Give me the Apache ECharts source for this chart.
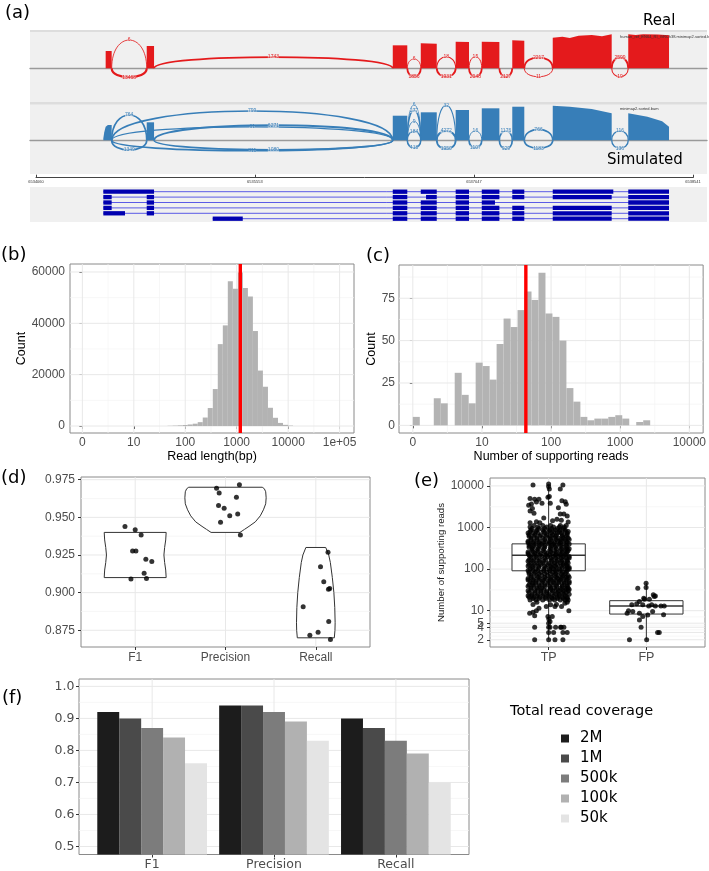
<!DOCTYPE html>
<html><head><meta charset="utf-8">
<script src="https://cdn.jsdelivr.net/npm/echarts@6/dist/echarts.min.js"></script>
<style>html,body{margin:0;padding:0;background:#fff}#c{width:709px;height:871px}</style>
</head><body><div id="c"></div><script>
// ================= DATA =================
// (a) sashimi plot: genomic axis
const genomeTicks = [6534060, 6535553, 6537047, 6538541];
// coverage top profiles: [genomic position, coverage]
const realCoverage = [
  [[6534535,1535],[6534576,1535]],
  [[6534815,1980],[6534865,1980]],
  [[6536493,2040],[6536592,2040]],
  [[6536684,2220],[6536793,2180]],
  [[6536922,2360],[6537013,2330]],
  [[6537100,2360],[6537220,2330]],
  [[6537308,2480],[6537390,2450]],
  [[6537584,2720],[6537650,2800],[6537700,2700],[6537760,2880],[6537850,2950],[6537920,2850],[6537986,3016]],
  [[6538099,3016],[6538150,2950],[6538200,3016],[6538300,2990],[6538377,2930]]
];
const simCoverage = [
  [[6534519,150],[6534525,700],[6534535,1200],[6534550,1357],[6534576,1357]],
  [[6534815,1597],[6534865,1597]],
  [[6536493,2182],[6536592,2182]],
  [[6536684,2484],[6536793,2484]],
  [[6536922,2688],[6537013,2688]],
  [[6537100,2838],[6537220,2838]],
  [[6537308,2980],[6537390,2980]],
  [[6537584,3069],[6537700,2980],[6537850,2780],[6537986,2395]],
  [[6538099,2395],[6538230,2100],[6538330,1700],[6538377,1206]]
];
// junctions: [start, end, arc height, supporting reads]
const realJunctions = [
  [6534576,6534815, 2510, 6],
  [6534576,6534815, -800, 13468],
  [6534865,6536493, 1000, 1743],
  [6536592,6536684, 825, 6],
  [6536592,6536684, -745, 1856],
  [6536793,6536922, 1030, 18],
  [6536793,6536922, -745, 1931],
  [6537013,6537100, 1030, 15],
  [6537013,6537100, -745, 2048],
  [6537220,6537308, -745, 2127],
  [6537390,6537584, 975, 2217],
  [6537390,6537584, -745, 11],
  [6537986,6538099, 975, 2599],
  [6537986,6538099, -745, 19]
];
const simJunctions = [
  [6534576,6534815, 2245, 764],
  [6534576,6534815, -860, 1349],
  [6534576,6536493, 2600, 799],
  [6534576,6536493, 1200, 61],
  [6534865,6536493, 1330, 6271],
  [6534576,6536493, -920, 811],
  [6534865,6536493, -840, 1080],
  [6536592,6536684, 3150, 6],
  [6536592,6536684, 2660, 277],
  [6536592,6536684, 1685, 9],
  [6536592,6536684, 800, 184],
  [6536592,6536684, -665, 418],
  [6536793,6536922, 3100, 32],
  [6536793,6536922, 825, 4272],
  [6536793,6536922, -770, 1950],
  [6537013,6537100, 825, 16],
  [6537013,6537100, -655, 1107],
  [6537220,6537308, 825, 1176],
  [6537220,6537308, -770, 929],
  [6537390,6537584, 975, 766],
  [6537390,6537584, -710, 1183],
  [6537986,6538099, 825, 116],
  [6537986,6538099, -710, 136]
];
// transcript models: exon [start, end]
const transcripts = [
  [[6534519,6534865],[6536493,6536592],[6536684,6536793],[6536922,6537013],[6537100,6537220],[6537308,6537390],[6537584,6537997],[6538099,6538377]],
  [[6534519,6534576],[6534815,6534865],[6536493,6536592],[6536720,6536793],[6536922,6537013],[6537100,6537220],[6537308,6537390],[6537584,6537986],[6538099,6538377]],
  [[6534519,6534576],[6534815,6534865],[6536493,6536592],[6536684,6536793],[6536922,6537013],[6537100,6537190],[6538099,6538377]],
  [[6534519,6534576],[6534815,6534865],[6536493,6536592],[6536684,6536793],[6536922,6537013],[6537100,6537220],[6537308,6537390],[6537584,6537986],[6538099,6538377]],
  [[6534519,6534667],[6534815,6534865],[6536493,6536592],[6536684,6536793],[6536922,6537013],[6537100,6537220],[6537308,6537390],[6537584,6537986],[6538099,6538377]],
  [[6535265,6535470],[6536493,6536592],[6536684,6536793],[6536922,6537013],[6537100,6537220],[6537308,6537390],[6537584,6537986],[6538099,6538377]]
];

// (b) read length histogram (log10 bin centres, counts)
const readLenBinWidth = 0.0975;
const readLenBins = [1.706,1.804,1.901,1.999,2.096,2.194,2.291,2.389,2.486,2.584,2.681,2.779,2.876,2.974,3.071,3.169,3.266,3.364,3.461,3.559,3.656,3.754,3.851,3.949,4.046];
const readLenCounts = [80,150,250,400,600,900,1500,3300,7000,14400,31900,39200,56400,53500,59800,53800,50500,37000,21600,15300,7100,3200,1200,450,150];
const readLenMedianPos = 3.07;
const readLenTickPos = [0,1,2,3,4,5];
const readLenTickLabels = ['0','10','100','1000','10000','1e+05'];
const countTicksB = [0,20000,40000,60000];

// (c) supporting reads histogram
const supportBinWidth = 0.101;
const supportBins = [0.0505,0.3535,0.4545,0.6565,0.7575,0.8585,0.9595,1.0605,1.1615,1.2625,1.3635,1.4645,1.5655,1.6665,1.7675,1.8685,1.9695,2.0705,2.1715,2.2725,2.3735,2.4745,2.5755,2.6765,2.7775,2.8785,2.9795,3.0805,3.2825,3.3835];
const supportCounts = [5,16,13,31,18,13,37,35,27,48,63,58,68,79,74,90,66,64,50,22,14,5,3,4,4,5,6,4,2,3];
const supportMedianPos = 1.635;
const supportTickPos = [0,1,2,3,4];
const supportTickLabels = ['0','10','100','1000','10000'];
const countTicksC = [0,25,50,75];

// (d) violin + jitter
const metricsD = ['F1','Precision','Recall'];
const violinF1 = [[0.910,0.343],[0.915,0.338],[0.920,0.326],[0.925,0.318],[0.930,0.326],[0.935,0.338],[0.940,0.343]];
const violinPrecision = [[0.940,0.16],[0.942,0.21],[0.944,0.26],[0.947,0.33],[0.951,0.385],[0.955,0.42],[0.959,0.445],[0.963,0.45],[0.967,0.445],[0.969,0.43],[0.970,0.407]];
const violinRecall = [[0.870,0.205],[0.875,0.212],[0.880,0.214],[0.890,0.21],[0.900,0.20],[0.910,0.183],[0.920,0.161],[0.925,0.143],[0.930,0.11]];
const f1Values = [0.9439,0.9417,0.9383,0.9277,0.9277,0.9221,0.9206,0.9128,0.9090,0.9094];
const f1Jitter = [-0.113,0,0.066,-0.029,0.008,0.118,0.184,0.099,-0.047,0.125];
const precisionValues = [0.9694,0.9661,0.9717,0.9634,0.9579,0.9561,0.9510,0.9523,0.9468,0.9383];
const precisionJitter = [-0.099,-0.070,0.154,0.121,-0.077,-0.015,0.047,0.135,-0.055,0.165];
const recallValues = [0.9268,0.9172,0.9072,0.9028,0.9023,0.8906,0.8808,0.8737,0.8717,0.8688];
const recallJitter = [0.135,0.052,0.088,0.154,0.140,-0.140,0.143,0.025,-0.066,0.162];
const ticksD = [0.875,0.900,0.925,0.950,0.975];

// (e) boxplot + jitter (log10 y)
const classesE = ['TP','FP'];
const boxTP = [2, 91, 216, 404, 10500];   // [lower whisker, Q1, median, Q3, upper whisker]
const boxFP = [2, 8.3, 13, 17.4, 46];
const ticksE = [2,3,4,5,10,100,1000,10000];
const minorE = [2.45,3.46,4.47,7.07,31.6,316,3162];
const tpRowValues = [18,21,25,30,35,42,50,59,70,84,100,118,140,168,200,236,280,335,400,470,560,670,800,940,1120,
  19.5,23,27.5,32.5,38.5,46,54.5,64,77,92,109,129,154,184,218,258,307,367,435,515,615,735,870,1030];
const tpRowJitter = [
  [-0.19,-0.13,-0.06,0.01,0.06,0.12,0.17,0.20],
  [-0.20,-0.15,-0.09,-0.03,0.03,0.09,0.14,0.19],
  [-0.17,-0.11,-0.05,0.00,0.07,0.11,0.16,0.21],
  [-0.21,-0.14,-0.08,-0.02,0.04,0.10,0.15,0.20],
  [-0.18,-0.12,-0.07,0.02,0.06,0.12,0.17,0.20],
  [-0.20,-0.16,-0.10,-0.04,0.03,0.08,0.14,0.19],
  [-0.19,-0.13,-0.06,0.00,0.05,0.11,0.16,0.21],
  [-0.21,-0.15,-0.09,-0.03,0.02,0.09,0.13,0.19],
  [-0.18,-0.12,-0.07,-0.01,0.06,0.10,0.15,0.20],
  [-0.20,-0.14,-0.08,-0.02,0.04,0.08,0.14,0.18],
  [-0.19,-0.13,-0.05,0.01,0.05,0.11,0.17,0.21],
  [-0.21,-0.16,-0.10,-0.04,0.02,0.07,0.13,0.19],
  [-0.18,-0.12,-0.06,0.00,0.06,0.12,0.16,0.20],
  [-0.20,-0.15,-0.09,-0.03,0.03,0.09,0.14,0.19],
  [-0.19,-0.13,-0.07,-0.01,0.05,0.10,0.15,0.21],
  [-0.21,-0.14,-0.08,-0.02,0.04,0.08,0.13,0.18],
  [-0.17,-0.12,-0.06,0.01,0.06,0.12,0.17,0.20],
  [-0.20,-0.16,-0.10,-0.04,0.02,0.07,0.14,0.19],
  [-0.19,-0.13,-0.07,0.00,0.05,0.11,0.16,0.21],
  [-0.21,-0.15,-0.09,-0.03,0.03,0.09,0.13,0.18],
  [-0.18,-0.12,-0.06,0.01,0.06,0.10,0.15,0.20],
  [-0.20,-0.14,-0.08,-0.02,0.04,0.08,0.14,0.19],
  [-0.19,-0.13,-0.05,0.00,0.05,0.11,0.17,0.20],
  [-0.17,-0.10,-0.04,0.03,0.09,0.15],
  [-0.15,-0.06,0.02,0.12,0.18],
  [-0.16,-0.10,-0.03,0.04,0.09,0.15,0.19],
  [-0.21,-0.17,-0.12,-0.06,0.00,0.05,0.11,0.17],
  [-0.20,-0.14,-0.08,-0.02,0.04,0.09,0.14,0.18],
  [-0.18,-0.11,-0.05,0.02,0.08,0.13,0.18,0.21],
  [-0.21,-0.15,-0.09,-0.04,0.01,0.08,0.14,0.19],
  [-0.17,-0.13,-0.07,-0.01,0.05,0.10,0.16,0.21],
  [-0.21,-0.16,-0.10,-0.05,0.02,0.07,0.12,0.18],
  [-0.18,-0.11,-0.04,0.03,0.08,0.14,0.18,0.21],
  [-0.20,-0.15,-0.10,-0.04,0.02,0.07,0.13,0.17],
  [-0.21,-0.16,-0.11,-0.05,0.01,0.07,0.12,0.19],
  [-0.17,-0.10,-0.03,0.03,0.08,0.14,0.19,0.21],
  [-0.20,-0.14,-0.08,-0.01,0.04,0.09,0.15,0.18],
  [-0.21,-0.16,-0.10,-0.05,0.03,0.08,0.13,0.19],
  [-0.18,-0.12,-0.04,0.02,0.07,0.13,0.18,0.21],
  [-0.20,-0.15,-0.09,-0.03,0.01,0.07,0.12,0.17],
  [-0.21,-0.16,-0.11,-0.04,0.02,0.08,0.14,0.19],
  [-0.17,-0.11,-0.05,0.02,0.08,0.13,0.18,0.21],
  [-0.20,-0.15,-0.09,-0.04,0.03,0.07,0.12,0.18],
  [-0.21,-0.16,-0.10,-0.05,0.01,0.06,0.12,0.19],
  [-0.18,-0.12,-0.04,0.02,0.08,0.13,0.17,0.21],
  [-0.20,-0.15,-0.09,-0.03,0.02,0.07,0.14,0.18],
  [-0.21,-0.16,-0.11,-0.04,0.03,0.09,0.13,0.19],
  [-0.18,-0.12,-0.06,0.01,0.07,0.12,0.17],
  [-0.19,-0.11,-0.02,0.05,0.11,0.16]
];
const tpSparseValues = [10570,11170,9630,8470,10570,8470,3440,3690,4790,4120,4790,3840,5350,5540,3840,4370,4170,3630,2880,2210,2120,2120,1580,1380,1700,1450,1900,2500,1300,1350,3000,5000,
  9.2,8.7,7.6,9.9,11.5,12.6,13.8,12.6,12.6,15.1,9.9,7.2,6.2,5.5,7.2,4,5,4,4,4,4,4,3,3,3,3,2,2,2,2,4,14,14,16,16,1300,1500];
const tpSparseJitter = [-0.16,0,0,0.007,0.146,0.119,-0.204,-0.176,-0.143,-0.125,-0.099,-0.068,-0.007,0.007,0.017,0.136,0.17,0.18,-0.166,-0.15,0.119,0.156,0.085,-0.125,-0.05,0.04,0.19,-0.19,-0.19,0.2,0.1,-0.19,
  -0.16,-0.194,-0.143,-0.126,-0.099,-0.024,0.02,0.065,0.132,0.166,0.207,-0.007,0.003,0.014,0.037,-0.143,0,0,0.014,0.071,0.122,0.156,0,0.051,0.146,0.19,-0.143,0,0.065,0.146,0.129,-0.16,0.08,-0.12,0.19,-0.09,0.13];
const fpValues = [2,2,3,3,4,6,7.2,8.7,10,9.5,8.7,7.9,9.5,8,13,13,13.8,13,13,16.6,20,14.6,13.8,21.8,24,22.7,36,34.7,45.8,18.9,18.9,13.8];
const fpJitter = [-0.173,0.003,0.115,0.132,-0.054,-0.071,-0.037,-0.197,-0.183,-0.139,-0.071,0.014,0.064,0.176,0.149,0.183,-0.037,0.024,0.092,-0.071,-0.027,-0.099,-0.149,0.081,0.071,0.092,-0.003,-0.088,-0.003,-0.02,0.031,0.054];

// (f) grouped bars
const metricsF = ['F1','Precision','Recall'];
const coverageLevels = ['2M','1M','500k','100k','50k'];
const cov2M = [0.92,0.94,0.90];
const cov1M = [0.90,0.94,0.87];
const cov500k = [0.87,0.92,0.83];
const cov100k = [0.84,0.89,0.79];
const cov50k = [0.76,0.83,0.70];
const ticksF = [0.5,0.6,0.7,0.8,0.9,1.0];

// ================= STYLE / HELPERS =================
const FONT = '"Liberation Sans", Arial, sans-serif';
const DFONT = '"DejaVu Sans", sans-serif';
const TICK = '#4d4d4d';
const RED = '#e41a1c', BLUE = '#377eb8';
const levelColors = ['#1c1c1c','#4a4a4a','#7c7c7c','#b1b1b1','#e4e4e4'];

function nearestLabel(pos, labels, v) {
  let best = 0;
  for (let i = 1; i < pos.length; i++) if (Math.abs(pos[i] - v) < Math.abs(pos[best] - v)) best = i;
  return labels[best];
}
function blankAxis(gridIndex, min, max, extra) {
  return Object.assign({type:'value', gridIndex, min, max, splitLine:{show:false},
    axisLine:{show:false}, axisTick:{show:false}, axisLabel:{show:false}}, extra || {});
}
function tickAxis(gridIndex, min, max, pos, fmt, o) {
  o = o || {};
  return Object.assign({type:'value', gridIndex, min, max, splitLine:{show:false},
    axisLine:{show:false},
    axisTick:{show:true, customValues:pos, length:3, lineStyle:{color:'#333', width:1}},
    axisLabel:{show:true, customValues:pos, formatter:fmt, color:TICK, fontSize:o.fs || 12, fontFamily:o.ff || FONT,
      margin:o.margin || 4, hideOverlap:false, showMinLabel:true, showMaxLabel:true}
  }, o.extra || {});
}
function gridLines(idx, xMajor, xMinor, yMajor, yMinor) {
  const data = [];
  xMinor.forEach(v => data.push([v, 0, 1]));
  yMinor.forEach(v => data.push([v, 1, 1]));
  xMajor.forEach(v => data.push([v, 0, 0]));
  yMajor.forEach(v => data.push([v, 1, 0]));
  return {type:'custom', xAxisIndex:idx, yAxisIndex:idx, silent:true, z:1, data,
    renderItem(params, api) {
      const cs = params.coordSys;
      const v = api.value(0), dir = api.value(1), minor = api.value(2);
      let shape;
      if (dir === 0) { const x = api.coord([v, 0])[0]; shape = {x1:x, y1:cs.y, x2:x, y2:cs.y + cs.height}; }
      else { const y = api.coord([0, v])[1]; shape = {x1:cs.x, y1:y, x2:cs.x + cs.width, y2:y}; }
      return {type:'line', shape, style:{stroke: minor ? '#f3f3f3' : '#e8e8e8', lineWidth: minor ? 0.7 : 1}};
    }};
}
function histSeries(idx, centers, counts, w) {
  return {type:'custom', xAxisIndex:idx, yAxisIndex:idx, silent:true, z:3,
    data: centers.map((c, i) => [c, counts[i]]),
    renderItem(params, api) {
      const c = api.value(0), n = api.value(1);
      const p0 = api.coord([c - w / 2, n]), p1 = api.coord([c + w / 2, 0]);
      return {type:'rect', shape:{x:p0[0], y:p0[1], width:p1[0] - p0[0], height:p1[1] - p0[1]}, style:{fill:'#b3b3b3'}};
    }};
}
function medianSeries(idx, pos) {
  return {type:'custom', xAxisIndex:idx, yAxisIndex:idx, silent:true, z:5, data:[[pos, 0]],
    renderItem(params, api) {
      const cs = params.coordSys; const x = api.coord([api.value(0), 0])[0];
      return {type:'rect', shape:{x:x - 1.7, y:cs.y, width:3.4, height:cs.height}, style:{fill:'#ff0000'}};
    }};
}
function coverageSeries(idx, blocks, color) {
  return {type:'custom', xAxisIndex:idx, yAxisIndex:idx, silent:true, z:3,
    data: blocks.map((b, i) => [b[0][0], b[0][1], i]),
    renderItem(params, api) {
      const b = blocks[api.value(2)];
      const pts = [api.coord([b[0][0], 0])].concat(b.map(p => api.coord(p)), [api.coord([b[b.length - 1][0], 0])]);
      return {type:'polygon', shape:{points:pts}, style:{fill:color}};
    }};
}
function arcSeries(idx, arcs, color) {
  return {type:'custom', xAxisIndex:idx, yAxisIndex:idx, silent:true, z:4,
    data: arcs.map(a => [a[0], a[2], a[1], a[3]]),
    renderItem(params, api) {
      const g0 = api.value(0), h = api.value(1), g1 = api.value(2), n = api.value(3);
      const yc = h * 8 / 6;
      const p0 = api.coord([g0, 0]), p3 = api.coord([g1, 0]);
      const c1 = api.coord([g0, yc]), c2 = api.coord([g1, yc]);
      const pm = api.coord([(g0 + g1) / 2, h]);
      const lw = 0.5 + 0.4 * Math.log10(n + 1);
      return {type:'group', children:[
        {type:'bezierCurve', shape:{x1:p0[0], y1:p0[1], x2:p3[0], y2:p3[1], cpx1:c1[0], cpy1:c1[1], cpx2:c2[0], cpy2:c2[1]},
          style:{stroke:color, lineWidth:lw, fill:null}},
        {type:'text', x:pm[0], y:pm[1], style:{text:String(n), fill:color, font:'5px ' + FONT,
          align:'center', verticalAlign:'middle', backgroundColor:'rgba(240,240,240,0.6)'}}
      ]};
    }};
}
function txt(text, x, y, size, family, opts) {
  opts = opts || {};
  return {type:'text', x, y, rotation: opts.rot || 0, z:100, silent:true,
    style:{text, font:(opts.weight ? opts.weight + ' ' : '') + size + 'px ' + family, fill: opts.fill || '#000',
      align: opts.align || 'left', verticalAlign: opts.valign || 'middle',
      textAlign: opts.align || 'left', textVerticalAlign: opts.valign || 'middle'}};
}
const panelBorder = {show:true, borderColor:'#8a8a8a', borderWidth:1, backgroundColor:'#fff'};

// ================= OPTION =================
const G0 = 6534019, G1 = 6538636;  // visible genomic extent of panel (a)
const grids = [
  {left:30, top:30, width:677, height:71},    // 0 real track
  {left:30, top:104, width:677, height:72},   // 1 simulated track
  {left:36, top:170, width:657, height:7.7},  // 2 genomic axis
  {left:30, top:189, width:677, height:32.4}, // 3 transcripts
  Object.assign({left:70, top:264, width:284, height:169}, panelBorder),   // 4 (b)
  Object.assign({left:399, top:265, width:305, height:168}, panelBorder),  // 5 (c)
  Object.assign({left:81, top:477, width:289, height:170}, panelBorder),   // 6 (d)
  Object.assign({left:490, top:478, width:215, height:169}, panelBorder),  // 7 (e)
  Object.assign({left:79, top:679, width:390, height:177}, panelBorder)    // 8 (f)
];

const xAxes = [
  blankAxis(0, G0, G1, {axisLine:{show:true, onZero:true, lineStyle:{color:'#9a9a9a', width:1.4}}}),
  blankAxis(1, G0, G1, {axisLine:{show:true, onZero:true, lineStyle:{color:'#9a9a9a', width:1.4}}}),
  {type:'value', gridIndex:2, min:genomeTicks[0], max:genomeTicks[3], splitLine:{show:false},
    axisLine:{show:true, onZero:false, lineStyle:{color:'#444', width:1}},
    axisTick:{show:true, inside:true, length:3, customValues:genomeTicks, lineStyle:{color:'#444'}},
    axisLabel:{show:true, customValues:genomeTicks, formatter:v => String(Math.round(v)), fontSize:4, color:'#333', margin:2, fontFamily:FONT, hideOverlap:false}},
  blankAxis(3, G0, G1),
  tickAxis(4, -0.24, 5.28, readLenTickPos, v => nearestLabel(readLenTickPos, readLenTickLabels, v), {margin:4,
    extra:{name:'Read length(bp)', nameLocation:'middle', nameGap:17, nameTextStyle:{fontSize:12.5, color:'#000', fontFamily:FONT}}}),
  tickAxis(5, -0.2, 4.2, supportTickPos, v => nearestLabel(supportTickPos, supportTickLabels, v), {margin:4,
    extra:{name:'Number of supporting reads', nameLocation:'middle', nameGap:17, nameTextStyle:{fontSize:12.5, color:'#000', fontFamily:FONT}}}),
  tickAxis(6, 0.4, 3.6, [1,2,3], v => nearestLabel([1,2,3], metricsD, v), {margin:4.5}),
  tickAxis(7, 0.4, 2.6, [1,2], v => nearestLabel([1,2], classesE, v), {margin:4.5, fs:12.5}),
  tickAxis(8, 0.4, 3.6, [1,2,3], v => nearestLabel([1,2,3], metricsF, v), {margin:3.5, fs:12.5, ff:DFONT})
];
const eLog = ticksE.map(v => Math.log10(v));
const yAxes = [
  blankAxis(0, -2900, 3400),
  blankAxis(1, -3168, 3221),
  blankAxis(2, 0, 1),
  blankAxis(3, 0.5, 6.5, {inverse:true}),
  tickAxis(4, -2727, 63116, countTicksB, v => String(Math.round(v)), {margin:5,
    extra:{name:'Count', nameLocation:'middle', nameRotate:90, nameGap:41, nameTextStyle:{fontSize:12.5, color:'#000', fontFamily:FONT}}}),
  tickAxis(5, -4.5, 94.6, countTicksC, v => String(Math.round(v)), {margin:4,
    extra:{name:'Count', nameLocation:'middle', nameRotate:90, nameGap:21, nameTextStyle:{fontSize:12.5, color:'#000', fontFamily:FONT}}}),
  tickAxis(6, 0.8639, 0.9768, ticksD, v => v.toFixed(3), {margin:6}),
  tickAxis(7, 0.127, 4.19, eLog, v => nearestLabel(eLog, ticksE.map(String), v), {margin:6,
    extra:{name:'Number of supporting reads', nameLocation:'middle', nameRotate:90, nameGap:40, nameTextStyle:{fontSize:9.6, color:'#1a1a1a', fontFamily:FONT}}}),
  tickAxis(8, 0.475, 1.023, ticksF, v => v.toFixed(1), {margin:4.5, fs:12.5, ff:DFONT})
];

const series = [];
// ---- (a)
series.push(coverageSeries(0, realCoverage, RED));
series.push(arcSeries(0, realJunctions, RED));
series.push(coverageSeries(1, simCoverage, BLUE));
series.push(arcSeries(1, simJunctions, BLUE));
series.push({type:'custom', xAxisIndex:3, yAxisIndex:3, silent:true, z:3,
  data: transcripts.map((t, i) => [t[0][0], i + 1]),
  renderItem(params, api) {
    const t = transcripts[params.dataIndex]; const row = api.value(1);
    const a = api.coord([t[0][0], row]), b = api.coord([t[t.length - 1][1], row]);
    const children = [{type:'line', shape:{x1:a[0], y1:a[1], x2:b[0], y2:b[1]}, style:{stroke:'#5a5ae6', lineWidth:1}}];
    t.forEach(e => {
      const p0 = api.coord([e[0], row - 0.4]), p1 = api.coord([e[1], row + 0.4]);
      children.push({type:'rect', shape:{x:p0[0], y:Math.min(p0[1], p1[1]), width:p1[0] - p0[0], height:Math.abs(p1[1] - p0[1])}, style:{fill:'#0000b0'}});
    });
    return {type:'group', children};
  }});
// ---- (b)
series.push(gridLines(4, readLenTickPos, [0.5,1.5,2.5,3.5,4.5], countTicksB, [10000,30000,50000]));
series.push(histSeries(4, readLenBins, readLenCounts, readLenBinWidth));
series.push(medianSeries(4, readLenMedianPos));
// ---- (c)
series.push(gridLines(5, supportTickPos, [0.5,1.5,2.5,3.5], countTicksC, [12.5,37.5,62.5,87.5]));
series.push(histSeries(5, supportBins, supportCounts, supportBinWidth));
series.push(medianSeries(5, supportMedianPos));
// ---- (d)
series.push(gridLines(6, [1,2,3], [], ticksD, [0.8875,0.9125,0.9375,0.9625]));
const violins = [violinF1, violinPrecision, violinRecall];
series.push({type:'custom', xAxisIndex:6, yAxisIndex:6, silent:true, z:3,
  data: violins.map((v, i) => [i + 1, v[0][0]]),
  renderItem(params, api) {
    const cat = api.value(0); const prof = violins[params.dataIndex];
    const pts = [];
    prof.forEach(p => pts.push(api.coord([cat + p[1], p[0]])));
    for (let i = prof.length - 1; i >= 0; i--) pts.push(api.coord([cat - prof[i][1], prof[i][0]]));
    return {type:'polygon', shape:{points:pts}, style:{fill:'#fff', stroke:'#333', lineWidth:1}};
  }});
const dPoints = [];
f1Values.forEach((v, i) => dPoints.push([1 + f1Jitter[i], v]));
precisionValues.forEach((v, i) => dPoints.push([2 + precisionJitter[i], v]));
recallValues.forEach((v, i) => dPoints.push([3 + recallJitter[i], v]));
series.push({type:'scatter', xAxisIndex:6, yAxisIndex:6, data:dPoints, symbolSize:5, z:5, silent:true, itemStyle:{color:'#000'}});
// ---- (e)
series.push(gridLines(7, [1,2], [], eLog, minorE.map(v => Math.log10(v))));
const boxes = [boxTP, boxFP];
series.push({type:'custom', xAxisIndex:7, yAxisIndex:7, silent:true, z:3,
  data: boxes.map((b, i) => [i + 1, Math.log10(b[2])]),
  renderItem(params, api) {
    const cat = api.value(0); const b = boxes[params.dataIndex].map(v => Math.log10(v));
    const lo = api.coord([cat, b[0]]), q1l = api.coord([cat - 0.375, b[1]]), q3r = api.coord([cat + 0.375, b[3]]);
    const q1 = api.coord([cat, b[1]]), q3 = api.coord([cat, b[3]]), hi = api.coord([cat, b[4]]);
    const ml = api.coord([cat - 0.375, b[2]]), mr = api.coord([cat + 0.375, b[2]]);
    const st = {stroke:'#333', lineWidth:1};
    return {type:'group', children:[
      {type:'line', shape:{x1:lo[0], y1:lo[1], x2:q1[0], y2:q1[1]}, style:st},
      {type:'line', shape:{x1:q3[0], y1:q3[1], x2:hi[0], y2:hi[1]}, style:st},
      {type:'rect', shape:{x:q1l[0], y:q3r[1], width:q3r[0] - q1l[0], height:q1l[1] - q3r[1]}, style:{fill:'#fff', stroke:'#333', lineWidth:1}},
      {type:'line', shape:{x1:ml[0], y1:ml[1], x2:mr[0], y2:mr[1]}, style:{stroke:'#333', lineWidth:1.4}}
    ]};
  }});
const ePoints = [];
tpRowValues.forEach((v, r) => tpRowJitter[r].forEach(dx => ePoints.push([1 + dx, Math.log10(v)])));
tpSparseValues.forEach((v, i) => ePoints.push([1 + tpSparseJitter[i], Math.log10(v)]));
fpValues.forEach((v, i) => ePoints.push([2 + fpJitter[i], Math.log10(v)]));
series.push({type:'scatter', xAxisIndex:7, yAxisIndex:7, data:ePoints, symbolSize:5, z:5, silent:true, itemStyle:{color:'#000'}});
// ---- (f)
series.push(gridLines(8, [1,2,3], [], ticksF, [0.55,0.65,0.75,0.85,0.95]));
const levelValues = [cov2M, cov1M, cov500k, cov100k, cov50k];
levelValues.forEach((vals, k) => {
  series.push({type:'custom', name:coverageLevels[k], xAxisIndex:8, yAxisIndex:8, clip:true, silent:true, z:3,
    itemStyle:{color:levelColors[k]},
    data: vals.map((v, i) => [i + 1, v]),
    renderItem(params, api) {
      const xc = api.value(0) + (k - 2) * 0.18;
      const p0 = api.coord([xc - 0.09, api.value(1)]), p1 = api.coord([xc + 0.09, 0]);
      return {type:'rect', shape:{x:p0[0], y:p0[1], width:p1[0] - p0[0], height:p1[1] - p0[1]}, style:{fill:levelColors[k]}};
    }});
});

const graphic = [
  // panel (a) backgrounds
  {type:'rect', shape:{x:30, y:30, width:677, height:144}, style:{fill:'#f0f0f0'}, z:-10, silent:true},
  {type:'rect', shape:{x:30, y:30, width:677, height:2}, style:{fill:'#dddddd'}, z:-9, silent:true},
  {type:'rect', shape:{x:30, y:102, width:677, height:2.5}, style:{fill:'#dddddd'}, z:-9, silent:true},
  {type:'rect', shape:{x:30, y:187, width:677, height:35}, style:{fill:'#f0f0f0'}, z:-10, silent:true},
  txt('(a)', 5, 13, 18, DFONT),
  txt('Real', 643, 21, 15, DFONT),
  txt('Simulated', 607, 160, 15, DFONT),
  txt('human_ref_EN64_RI_GRCh38.minimap2.sorted.bam', 620, 37, 4, FONT, {fill:'#333'}),
  txt('minimap2.sorted.bam', 620, 109, 4, FONT, {fill:'#333'}),
  txt('(b)', 1, 255, 18, DFONT),
  txt('(c)', 366, 256, 18, DFONT),
  txt('(d)', 1, 478, 18, DFONT),
  txt('(e)', 414, 481, 18, DFONT),
  txt('(f)', 2, 698, 18, DFONT),
  txt('Total read coverage', 510, 711, 14.5, DFONT)
];

const option = {
  animation:false,
  backgroundColor:'#fff',
  grid: grids,
  xAxis: xAxes,
  yAxis: yAxes,
  series,
  graphic,
  legend: {data:coverageLevels, orient:'vertical', left:556, top:726, itemWidth:8, itemHeight:8, itemGap:5,
    icon:'rect', selectedMode:false,
    textStyle:{fontSize:15, lineHeight:15, fontFamily:DFONT, color:'#000', padding:[0,0,0,6]}}
};
const chart = echarts.init(document.getElementById('c'), null, {renderer:'canvas'});
chart.setOption(option);
</script></body></html>
